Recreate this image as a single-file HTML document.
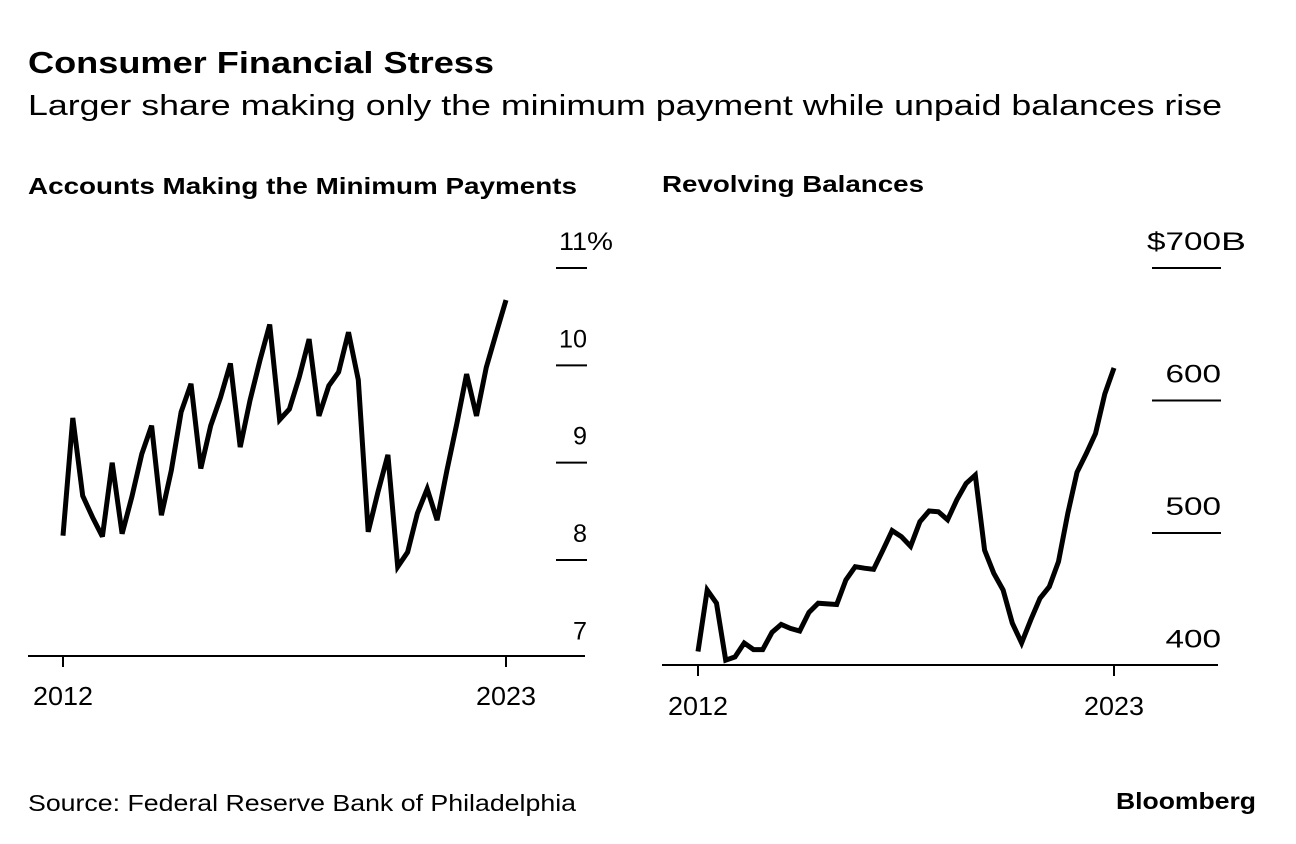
<!DOCTYPE html>
<html><head><meta charset="utf-8"><style>
html,body{margin:0;padding:0;background:#fff;}
svg{display:block;font-family:"Liberation Sans",sans-serif;}
</style></head><body>
<svg id="c" width="1296" height="844" viewBox="0 0 1296 844">
<text x="28" y="73" font-size="31" font-weight="bold" textLength="466" lengthAdjust="spacingAndGlyphs">Consumer Financial Stress</text>
<text x="28" y="115" font-size="29" textLength="1194" lengthAdjust="spacingAndGlyphs">Larger share making only the minimum payment while unpaid balances rise</text>
<text x="28" y="194" font-size="23" font-weight="bold" textLength="549" lengthAdjust="spacingAndGlyphs">Accounts Making the Minimum Payments</text>
<text x="662" y="192" font-size="23" font-weight="bold" textLength="262" lengthAdjust="spacingAndGlyphs">Revolving Balances</text>
<text x="28" y="811" font-size="23" textLength="548" lengthAdjust="spacingAndGlyphs">Source: Federal Reserve Bank of Philadelphia</text>
<text x="1256" y="809" font-size="23" font-weight="bold" text-anchor="end" textLength="140" lengthAdjust="spacingAndGlyphs">Bloomberg</text>
<g id="left"></g>
<g id="right"></g>
</svg>
<script>
const minPayValues=[8.25,9.46,8.66,8.44,8.24,9.0,8.27,8.65,9.09,9.38,8.46,8.92,9.52,9.81,8.94,9.38,9.67,10.02,9.16,9.64,10.05,10.42,9.44,9.55,9.88,10.27,9.48,9.79,9.93,10.34,9.85,8.29,8.70,9.08,7.93,8.08,8.48,8.73,8.41,8.92,9.40,9.91,9.48,9.98,10.33,10.67];
const balanceValues=[410.6,457,447,404,406.5,417,412,412,425,431,428,426,440,447,446.5,446,464.6,474.6,473.4,472.6,487,501.8,497.2,490,508.5,516.6,516,510,525,537.4,543.7,487,469.6,457,432,417,434.5,450.7,459.5,478.4,514.8,545.8,560,575,605,624.6];
const leftTicks=[11,10,9,8,7];
const leftTickLabels=["11%","10","9","8","7"];
const rightTicks=[700,600,500,400];
const rightTickLabels=["$700B","600","500","400"];
const yearLabels=["2012","2023"];
const NS="http://www.w3.org/2000/svg";
function mk(p,t,a){const e=document.createElementNS(NS,t);for(const k in a)e.setAttribute(k,a[k]);p.appendChild(e);return e;}
function drawPanel(g,vals,ticks,labels,o){
  const n=vals.length;
  const xs=i=>o.x0+(o.x1-o.x0)*i/(n-1);
  const ys=v=>o.yTop+(o.vTop-v)*(o.yBot-o.yTop)/(o.vTop-o.vBot);
  ticks.forEach((t,i)=>{
    const y=ys(t);
    if(i<ticks.length-1){
      const gl=mk(g,'line',{x1:o.gx0,x2:o.gx1,y1:y,y2:y,stroke:'#000','stroke-width':2});
      
      
    }
    const m=labels[i].match(/^(\$?)(\d+)(.*)$/);
    const numStr=m[1]+m[2];
    const w=numStr.length*o.cw;
    const tx=mk(g,'text',{x:o.gx1-w,y:y-o.labOff,'font-size':25,textLength:w,lengthAdjust:'spacingAndGlyphs'});
    tx.textContent=numStr;
    
    
    if(m[3]){
      const s=mk(g,'text',{x:o.gx1,y:y-o.labOff,'font-size':25,textLength:o.sw,lengthAdjust:'spacingAndGlyphs'});
      s.textContent=m[3];
      
      
    }
  });
  const ax=mk(g,'line',{x1:o.ax0,x2:o.ax1,y1:o.axisY,y2:o.axisY,stroke:'#000','stroke-width':2});
  
  
  [0,n-1].forEach((i,k)=>{
    const x=xs(i);
    const tk=mk(g,'line',{x1:x,x2:x,y1:o.axisY,y2:o.axisY+11,stroke:'#000','stroke-width':2});
    
    
    const t=mk(g,'text',{x:x-30,y:o.yearY,'font-size':26,textLength:60,lengthAdjust:'spacingAndGlyphs'});
    t.textContent=yearLabels[k];
    
    
  });
  const d=vals.map((v,i)=>(i?'L':'M')+xs(i).toFixed(1)+','+ys(v).toFixed(1)).join(' ');
  const p=mk(g,'path',{d:d,fill:'none',stroke:'#000','stroke-width':5,'stroke-linejoin':'miter','stroke-miterlimit':3});
  
  
}
drawPanel(document.getElementById('left'),minPayValues,leftTicks,leftTickLabels,
 {x0:63,x1:506,yTop:268,vTop:11,yBot:560,vBot:8,gx0:556,gx1:587,labOff:18,ax0:28,ax1:585,axisY:656,yearY:705,cw:14,sw:26});
drawPanel(document.getElementById('right'),balanceValues,rightTicks,rightTickLabels,
 {x0:698,x1:1114,yTop:268,vTop:700,yBot:533,vBot:500,gx0:1152,gx1:1221,labOff:18,ax0:662,ax1:1218,axisY:665,yearY:715,cw:18.5,sw:25});
</script>
</body></html>
